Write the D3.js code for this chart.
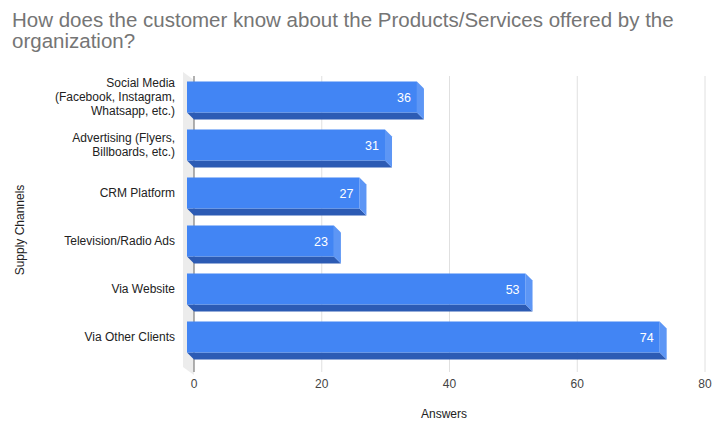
<!DOCTYPE html>
<html>
<head>
<meta charset="utf-8">
<script src="https://cdn.jsdelivr.net/npm/d3@7/dist/d3.min.js"></script>
<style>
  html, body { margin: 0; padding: 0; background: #fff; }
  svg { display: block; font-family: "Liberation Sans", Arial, sans-serif; }
</style>
</head>
<body>
<svg id="chart" width="713" height="423"></svg>
<script>
// Survey answers per supply channel
const categories = [
  ["Social Media", "(Facebook, Instagram,", "Whatsapp, etc.)"],
  ["Advertising (Flyers,", "Billboards, etc.)"],
  ["CRM Platform"],
  ["Television/Radio Ads"],
  ["Via Website"],
  ["Via Other Clients"]
];
const answers = [36, 31, 27, 23, 53, 74];
const xTicks = [0, 20, 40, 60, 80];

const title = ["How does the customer know about the Products/Services offered by the", "organization?"];
const xTitle = "Answers";
const yTitle = "Supply Channels";

const svg = d3.select("#chart");
const depth = 7; // 3D extrusion offset (front face is shifted up-left by this)

const x = d3.scaleLinear().domain([0, 80]).range([194, 705]);
const y = d3.scaleBand()
  .domain(d3.range(categories.length))
  .range([80, 368])
  .paddingInner(0.354)
  .paddingOuter(0.177);

// Title
const t = svg.append("text")
  .attr("x", 12).attr("y", 27)
  .attr("fill", "#757575")
  .attr("font-size", 20.5);
title.forEach((line, i) => t.append("tspan").attr("x", 12).attr("dy", i === 0 ? 0 : 21).text(line));

// Left wall of the plot box
const plotTop = y.range()[0], plotBottom = y.range()[1];
svg.append("polygon")
  .attr("points", [[x(0) - 11, plotTop - 8], [x(0), plotTop], [x(0), plotBottom + 7], [x(0) - 11, plotBottom - 1]].map(p => p.join(",")).join(" "))
  .attr("fill", "#ececec");

// Vertical gridlines on the back plane
svg.append("g").selectAll("line")
  .data(xTicks.filter(d => d !== 0))
  .join("line")
  .attr("x1", d => x(d)).attr("x2", d => x(d))
  .attr("y1", plotTop - 4).attr("y2", plotBottom + 4)
  .attr("stroke", "#e0e0e0").attr("stroke-width", 1);

// Zero baseline
svg.append("line")
  .attr("x1", x(0)).attr("x2", x(0))
  .attr("y1", plotTop - 4).attr("y2", plotBottom + 4)
  .attr("stroke", "#888").attr("stroke-width", 1.3);

// Bars: front face, bottom face, right side face
const bars = svg.append("g").selectAll("g")
  .data(answers)
  .join("g");

const h = y.bandwidth();
bars.append("polygon")
  .attr("fill", "#2c5bb4")
  .attr("points", (d, i) => {
    const y0 = y(i);
    return [[x(0) - depth, y0 - depth + h], [x(d) - depth, y0 - depth + h], [x(d), y0 + h], [x(0), y0 + h]].map(p => p.join(",")).join(" ");
  });
bars.append("polygon")
  .attr("fill", "#5d96f5")
  .attr("points", (d, i) => {
    const y0 = y(i);
    return [[x(d) - depth, y0 - depth], [x(d), y0], [x(d), y0 + h], [x(d) - depth, y0 - depth + h]].map(p => p.join(",")).join(" ");
  });
bars.append("rect")
  .attr("fill", "#4285f4")
  .attr("x", x(0) - depth)
  .attr("y", (d, i) => y(i) - depth)
  .attr("width", d => x(d) - x(0))
  .attr("height", h);

// Value labels inside the bars
bars.append("text")
  .attr("x", d => x(d) - depth - 6)
  .attr("y", (d, i) => y(i) - depth + h / 2 + 4.5)
  .attr("text-anchor", "end")
  .attr("fill", "#fff")
  .attr("font-size", 12.5)
  .text(d => d);

// Category labels
const cat = svg.append("g").selectAll("text")
  .data(categories)
  .join("text")
  .attr("text-anchor", "end")
  .attr("fill", "#222")
  .attr("font-size", 12)
  .attr("y", (d, i) => y(i) - depth + h / 2 + 4 - (d.length - 1) * 14 / 2);
cat.each(function (lines) {
  const el = d3.select(this);
  lines.forEach((line, j) => el.append("tspan").attr("x", 175).attr("dy", j === 0 ? 0 : 14).text(line));
});

// X tick labels
svg.append("g").selectAll("text")
  .data(xTicks)
  .join("text")
  .attr("x", d => x(d))
  .attr("y", 388)
  .attr("text-anchor", "middle")
  .attr("fill", "#444")
  .attr("font-size", 12)
  .text(d => d);

// Axis titles
svg.append("text")
  .attr("x", 444).attr("y", 418)
  .attr("text-anchor", "middle")
  .attr("fill", "#222")
  .attr("font-size", 12)
  .text(xTitle);

svg.append("text")
  .attr("transform", "translate(24,230) rotate(-90)")
  .attr("text-anchor", "middle")
  .attr("fill", "#222")
  .attr("font-size", 12)
  .text(yTitle);
</script>
</body>
</html>
